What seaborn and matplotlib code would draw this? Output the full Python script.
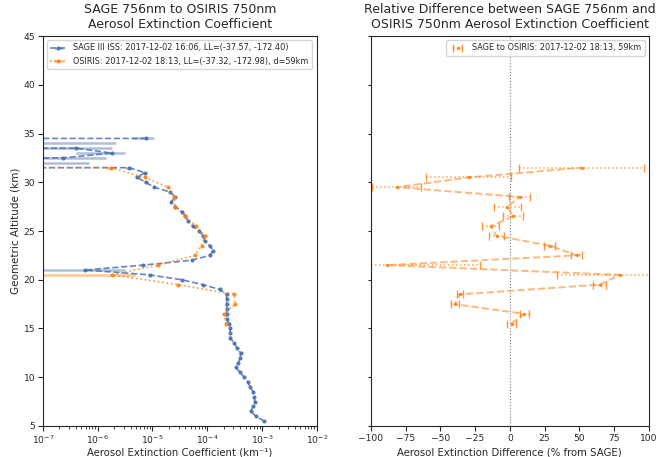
import numpy as np
import matplotlib
matplotlib.use("Agg")
import matplotlib.pyplot as plt
import seaborn as sns

# ---------------- data ----------------
sage_alt = [5.5, 6.0, 6.5, 7.0, 7.5, 8.0, 8.5, 9.0, 9.5, 10.0, 10.5, 11.0, 11.5, 12.0,
            12.5, 13.0, 13.5, 14.0, 14.5, 15.0, 15.5, 16.0, 16.5, 17.0, 17.5, 18.0, 18.5,
            19.0, 19.5, 20.0, 20.5, 21.0, 21.5, 22.0, 22.5, 23.0, 23.5, 24.0, 24.5, 25.0,
            25.5, 26.0, 26.5, 27.0, 27.5, 28.0, 28.5, 29.0, 29.5, 30.0, 30.5, 31.0, 31.5,
            32.0, 32.5, 33.0, 33.5, 34.0, 34.5]
sage_ext = [1.1e-3, 7.7e-4, 6.2e-4, 6.9e-4, 7.4e-4, 7.2e-4, 6.9e-4, 6.0e-4, 5.6e-4, 4.7e-4,
            4.0e-4, 3.3e-4, 3.7e-4, 4.0e-4, 4.05e-4, 3.5e-4, 3.1e-4, 2.65e-4, 2.6e-4, 2.65e-4,
            2.5e-4, 2.25e-4, 2.25e-4, 2.25e-4, 2.25e-4, 2.25e-4, 2.25e-4,
            1.7e-4, 8.3e-5, 3.4e-5, 8.9e-6, 5.9e-7, 6.8e-6, 5.2e-5, 1.1e-4, 1.29e-4, 1.1e-4,
            9.1e-5, 8.5e-5, 7.1e-5, 5.5e-5, 4.5e-5, 4.0e-5, 3.5e-5, 2.6e-5, 2.2e-5, 2.6e-5,
            2.1e-5, 1.07e-5, 7.5e-6, 5.3e-6, 7.2e-6, 3.7e-6,
            -5e-7, 2.3e-7, 1.8e-6, 4e-7, -1e-6, 7.6e-6]
sage_err = [2e-5, 1.5e-5, 1.2e-5, 1.3e-5, 1.4e-5, 1.4e-5, 1.3e-5, 1.2e-5, 1.1e-5, 9e-6,
            8e-6, 7e-6, 7e-6, 8e-6, 8e-6, 7e-6, 6e-6, 5e-6, 5e-6, 5e-6,
            5e-6, 4e-6, 4e-6, 4e-6, 4e-6, 4e-6, 4e-6,
            3e-6, 2e-6, 1e-6, 6e-7, 2.6e-6, 6e-7, 1e-6, 2e-6, 2e-6, 2e-6,
            2e-6, 2e-6, 1.5e-6, 1.2e-6, 1e-6, 1e-6, 8e-7, 7e-7, 6e-7, 6e-7,
            6e-7, 5e-7, 5e-7, 5e-7, 6e-7, 5e-7,
            1.2e-6, 1.2e-6, 1.4e-6, 1.4e-6, 3.2e-6, 3.2e-6]

osiris_alt = [15.5, 16.5, 17.5, 18.5, 19.5, 20.5, 21.5, 22.5, 23.5, 24.5, 25.5, 26.5,
              27.5, 28.5, 29.5, 30.5, 31.5, 32.5]
osiris_ext = [2.2e-4, 2.0e-4, 3.2e-4, 3.1e-4, 2.9e-5, 1.8e-6, 1.26e-5, 5.9e-5, 7.9e-5,
              9.1e-5, 6.2e-5, 4.0e-5, 2.6e-5, 2.5e-5, 1.95e-5, 7.2e-6, 1.75e-6, -1e-6]
osiris_err = [3e-6, 3e-6, 4e-6, 4e-6, 8e-7, 3e-6, 5e-7, 8e-7, 1e-6,
              1e-6, 8e-7, 6e-7, 5e-7, 5e-7, 4e-7, 3e-7, 3e-7, 3e-7]

diff_alt = [15.5, 16.5, 17.5, 18.5, 19.5, 20.5, 21.5, 22.5, 23.5, 24.5, 25.5, 26.5,
            27.5, 28.5, 29.5, 30.5, 31.5]
diff_pct = [1.2, 10.3, -39.6, -36.0, 64.7, 79.0, -88.7, 48.0, 28.8, -9.6, -13.7, 2.4,
            -1.7, 7.2, -81.5, -29.5, 51.6]
diff_err = [3.3, 3.3, 3.0, 2.2, 4.7, 45.0, 67.0, 4.0, 4.0, 5.5, 6.0, 7.0,
            10.0, 7.5, 17.5, 30.5, 45.0]

sage_label = "SAGE III ISS: 2017-12-02 16:06, LL=(-37.57, -172.40)"
osiris_label = "OSIRIS: 2017-12-02 18:13, LL=(-37.32, -172.98), d=59km"
diff_label = "SAGE to OSIRIS: 2017-12-02 18:13, 59km"

# ---------------- style ----------------
sns.set_style("ticks")
plt.rcParams['font.family'] = ['DejaVu Sans']
blue = sns.color_palette("deep")[0]
orange = "#ff7f0e"

fig = plt.figure(figsize=(6.6, 4.57), dpi=100)
ax1 = fig.add_axes([0.065, 0.068, 0.415, 0.853])
ax2 = fig.add_axes([0.562, 0.068, 0.421, 0.853], sharey=ax1)

# ---------------- left panel ----------------
ax1.set_xscale("log")
e1 = ax1.errorbar(sage_ext, sage_alt, xerr=sage_err, fmt='.--', color=blue, ms=4,
                  lw=1.2, elinewidth=1.8, label=sage_label)
e1[0].set_alpha(0.85)
for lc in e1[2]:
    lc.set_alpha(0.45)
e2 = ax1.errorbar(osiris_ext, osiris_alt, xerr=osiris_err, fmt='.:', color=orange, ms=4,
                  lw=1.2, elinewidth=1.8, label=osiris_label)
e2[0].set_alpha(0.8)
for lc in e2[2]:
    lc.set_alpha(0.45)
ax1.set_xlim(1e-7, 1e-2)
ax1.set_ylim(5, 45)
ax1.set_yticks(np.arange(5, 46, 5))
ax1.set_xlabel("Aerosol Extinction Coefficient (km\u207b\u00b9)", fontsize=7.3)
ax1.xaxis.set_label_coords(0.5, -0.055)
ax1.set_ylabel("Geometric Altitude (km)", fontsize=7.5, labelpad=2)
ax1.set_title("SAGE 756nm to OSIRIS 750nm\nAerosol Extinction Coefficient", fontsize=9)
ax1.tick_params(labelsize=6.6, pad=2)
ax1.legend(loc="upper left", fontsize=5.9)

# ---------------- right panel ----------------
ax2.axvline(0, color="gray", ls=":", lw=0.8)
sns.lineplot(x=diff_pct, y=diff_alt, sort=False, orient="y", estimator=None, ax=ax2,
             color=orange, linestyle="--", lw=1.4, alpha=0.55, legend=False)
e3 = ax2.errorbar(diff_pct, diff_alt, xerr=diff_err, fmt='.', color=orange, ms=3,
                  elinewidth=1.1, capsize=3, label=diff_label)
e3[0].set_alpha(0.8)
for lc in e3[2]:
    lc.set_linestyle(":")
    lc.set_alpha(0.7)
for cl in e3[1]:
    cl.set_alpha(0.8)
ax2.set_xlim(-100, 100)
ax2.set_xticks(np.arange(-100, 101, 25))
ax2.set_xlabel("Aerosol Extinction Difference (% from SAGE)", fontsize=7.3)
ax2.xaxis.set_label_coords(0.5, -0.055)
ax2.set_title("Relative Difference between SAGE 756nm and\nOSIRIS 750nm Aerosol Extinction Coefficient",
              fontsize=9)
ax2.tick_params(labelsize=6.6, pad=2)
ax2.tick_params(axis="y", length=2)
plt.setp(ax2.get_yticklabels(), visible=False)
ax2.legend(loc="upper right", fontsize=5.9)

fig.savefig("out.png", dpi=100)
